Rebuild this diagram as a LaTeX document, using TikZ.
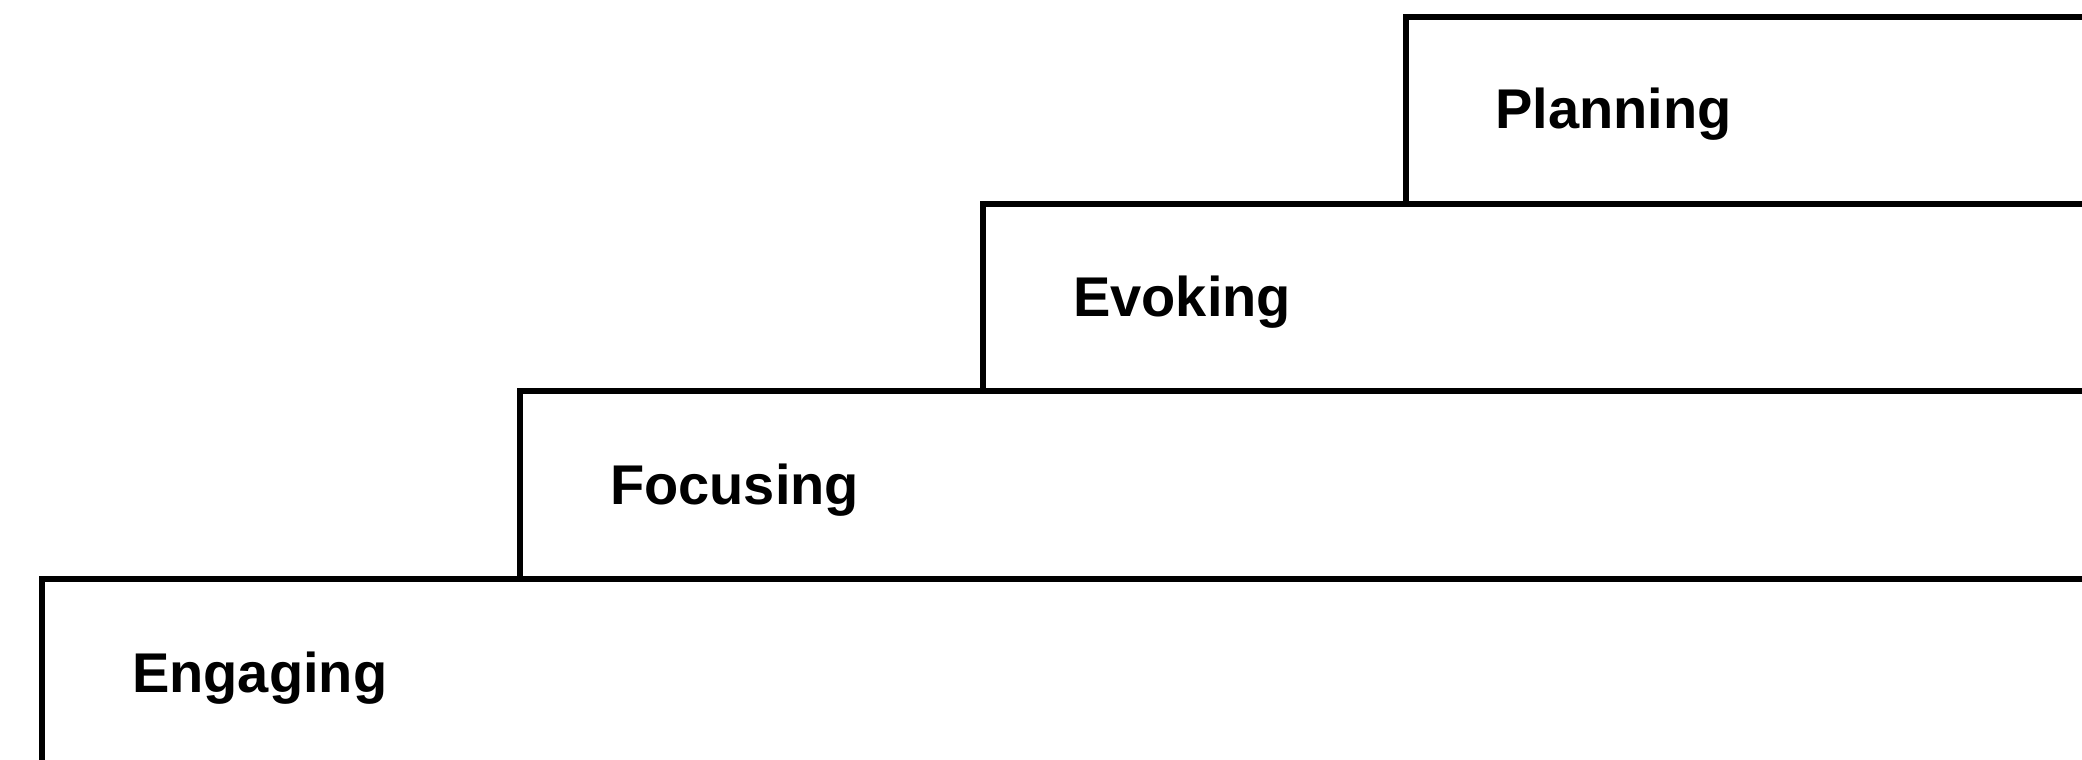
\documentclass[tikz,border=0pt]{standalone}
\usepackage{fontspec}
\setmainfont{Liberation Sans}
\begin{document}
\begin{tikzpicture}[x=1pt,y=-1pt,
  stepline/.style={line width=5.5pt,line cap=rect,line join=miter},
  steplabel/.style={anchor=base west,inner sep=0pt,font=\fontsize{56}{60}\selectfont\bfseries}]
\useasboundingbox (0,0) rectangle (2082,760);
% steps: left edge, top line
\draw[stepline] (1406,204) -- (1406,17) -- (2090,17);
\draw[stepline] (983,391) -- (983,204) -- (2090,204);
\draw[stepline] (520,579) -- (520,391) -- (2090,391);
\draw[stepline] (42,770) -- (42,579) -- (2090,579);
\node[steplabel] (planning) at (1495,128) {Planning};
\node[steplabel] (evoking) at (1073,316) {Evoking};
\node[steplabel] (focusing) at (610,504) {Focusing};
\node[steplabel] (engaging) at (132,692) {Engaging};
\end{tikzpicture}
\end{document}
